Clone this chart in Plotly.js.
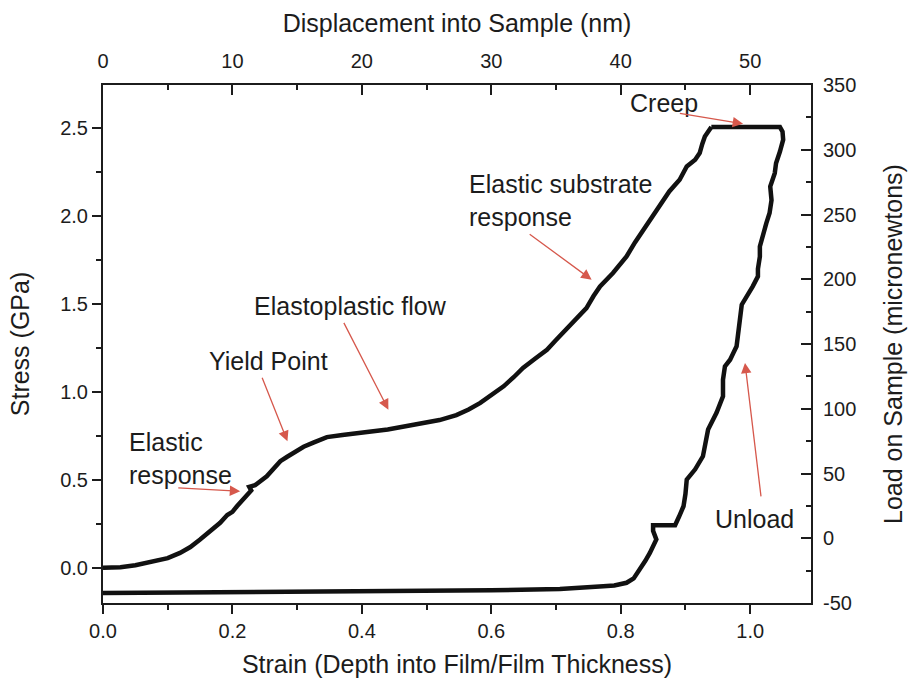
<!DOCTYPE html>
<html>
<head>
<meta charset="utf-8">
<script src="https://cdn.plot.ly/plotly-3.0.1.min.js"></script>
<style>html,body{margin:0;padding:0;background:#fff;}#chart{width:908px;height:684px;}</style>
</head>
<body>
<div id="chart"></div>
<script>
// Loading branch: strain (depth / film thickness) vs stress (GPa)
var strainLoad = [0.000,0.015,0.027,0.050,0.083,0.100,0.119,0.135,0.150,0.165,0.181,0.192,0.200,0.207,0.218,0.225,0.229,0.226,0.235,0.253,0.262,0.274,0.284,0.294,0.310,0.325,0.346,0.370,0.392,0.408,0.440,0.485,0.520,0.546,0.565,0.583,0.600,0.619,0.635,0.649,0.668,0.686,0.700,0.716,0.730,0.747,0.758,0.768,0.788,0.800,0.809,0.822,0.835,0.848,0.861,0.875,0.891,0.902,0.915,0.922,0.926,0.930,0.940];
var stressLoad = [0.000,0.000,0.003,0.015,0.038,0.055,0.085,0.118,0.161,0.205,0.256,0.300,0.318,0.350,0.392,0.426,0.440,0.460,0.470,0.520,0.555,0.606,0.630,0.653,0.688,0.712,0.743,0.755,0.762,0.772,0.786,0.815,0.840,0.868,0.900,0.938,0.985,1.032,1.085,1.136,1.190,1.240,1.295,1.354,1.410,1.477,1.545,1.600,1.676,1.730,1.770,1.850,1.922,2.000,2.074,2.140,2.206,2.282,2.320,2.358,2.410,2.452,2.506];
// Creep (hold at peak load) and unloading branch
var strainUnload = [0.940,1.046,1.050,1.051,1.046,1.040,1.038,1.031,1.033,1.030,1.025,1.020,1.015,1.015,1.012,1.012,1.004,0.987,0.984,0.979,0.974,0.969,0.961,0.958,0.958,0.948,0.935,0.930,0.927,0.915,0.902,0.900,0.897,0.890,0.884,0.850,0.850,0.855,0.850,0.845,0.838,0.830,0.820,0.809,0.790,0.773,0.706,0.600,0.400,0.200,0.000];
var stressUnload = [2.506,2.506,2.480,2.434,2.367,2.300,2.244,2.168,2.090,2.017,1.960,1.903,1.827,1.770,1.700,1.657,1.600,1.496,1.392,1.259,1.222,1.183,1.145,1.070,0.975,0.881,0.786,0.700,0.634,0.560,0.502,0.420,0.350,0.290,0.242,0.242,0.210,0.161,0.120,0.085,0.040,-0.010,-0.060,-0.085,-0.100,-0.105,-0.120,-0.128,-0.135,-0.140,-0.143];

// Axis ticks
var strainTicks = [0.0,0.2,0.4,0.6,0.8,1.0];
var strainTickText = ['0.0','0.2','0.4','0.6','0.8','1.0'];
var stressTicks = [0.0,0.5,1.0,1.5,2.0,2.5];
var stressTickText = ['0.0','0.5','1.0','1.5','2.0','2.5'];
var dispTicks = [0,10,20,30,40,50];
var dispTickText = ['0','10','20','30','40','50'];
var loadTicks = [-50,0,50,100,150,200,250,300,350];
var loadTickText = ['-50','0','50','100','150','200','250','300','350'];

// Annotation labels
var labelTexts = ['Creep','Elastic substrate<br>response','Elastoplastic flow','Yield Point','Elastic<br>response','Unload'];
var labelX = [0.867,0.562,0.3825,0.255,0.037,1.007];
var labelY = [2.642,2.088,1.486,1.174,0.620,0.278];
var labelAnchor = ['center','left','center','center','left','center'];
var arrowTailX = [0.889,0.657,0.371,0.245,0.114,1.017];
var arrowTailY = [2.585,1.903,1.401,1.089,0.455,0.398];
var arrowHeadX = [0.989,0.755,0.441,0.285,0.212,0.992];
var arrowHeadY = [2.524,1.638,0.899,0.719,0.435,1.165];

var FONT = 'Liberation Sans, Arial, sans-serif';
var INK = '#1c1c1c';
var RED = '#d6584c';

var traces = [
  {x: strainLoad, y: stressLoad, type:'scatter', mode:'lines',
   line:{color:'#111', width:4.5, shape:'linear'}, hoverinfo:'skip', showlegend:false},
  {x: strainUnload, y: stressUnload, type:'scatter', mode:'lines',
   line:{color:'#111', width:4.5, shape:'linear'}, hoverinfo:'skip', showlegend:false},
  {x: [], y: [], xaxis:'x2', yaxis:'y2', type:'scatter', mode:'lines', showlegend:false, hoverinfo:'skip'}
];

var annotations = [];
for (var i = 0; i < labelTexts.length; i++) {
  annotations.push({x: labelX[i], y: labelY[i], xref:'x', yref:'y', text: labelTexts[i],
    showarrow:false, xanchor: labelAnchor[i], yanchor:'middle', align:'left',
    font:{family:FONT, size:25, color:INK}});
  annotations.push({x: arrowHeadX[i], y: arrowHeadY[i], ax: arrowTailX[i], ay: arrowTailY[i],
    xref:'x', yref:'y', axref:'x', ayref:'y', text:'', showarrow:true,
    arrowhead:2, arrowsize:1.6, arrowwidth:1.3, arrowcolor:RED, standoff:0, startstandoff:0});
}

var axisCommon = {showgrid:false, zeroline:false, showline:true, linecolor:INK, linewidth:2,
  tickcolor:INK, tickwidth:2, tickfont:{family:FONT, size:20, color:INK}, automargin:false};

var layout = {
  width:908, height:684,
  margin:{l:103, r:97, t:85, b:81, pad:0},
  paper_bgcolor:'#ffffff', plot_bgcolor:'#ffffff',
  showlegend:false,
  xaxis: Object.assign({}, axisCommon, {
    range:[0,1.094], tickmode:'array', tickvals:strainTicks, ticktext:strainTickText,
    ticks:'outside', ticklen:9,
    minor:{tickmode:'linear', tick0:0.1, dtick:0.2, ticks:'outside', ticklen:5, tickwidth:2, tickcolor:INK},
    title:{text:'Strain (Depth into Film/Film Thickness)', font:{family:FONT, size:25, color:INK}, standoff:14}
  }),
  yaxis: Object.assign({}, axisCommon, {
    range:[-0.2,2.745], tickmode:'array', tickvals:stressTicks, ticktext:stressTickText,
    ticks:'outside', ticklen:9,
    minor:{tickmode:'linear', tick0:0.25, dtick:0.5, ticks:'outside', ticklen:5, tickwidth:2, tickcolor:INK},
    title:{text:'Stress (GPa)', font:{family:FONT, size:25, color:INK}, standoff:23}
  }),
  xaxis2: Object.assign({}, axisCommon, {
    overlaying:'x', side:'top', anchor:'y',
    range:[0,54.7], tickmode:'array', tickvals:dispTicks, ticktext:dispTickText,
    ticks:'inside', ticklen:10, ticklabelstandoff:7,
    minor:{tickmode:'linear', tick0:5, dtick:10, ticks:'inside', ticklen:5, tickwidth:2, tickcolor:INK},
    title:{text:'Displacement into Sample (nm)', font:{family:FONT, size:25, color:INK}, standoff:10}
  }),
  yaxis2: Object.assign({}, axisCommon, {
    overlaying:'y', side:'right', anchor:'x',
    range:[-50,350], tickmode:'array', tickvals:loadTicks, ticktext:loadTickText,
    ticks:'inside', ticklen:10, ticklabelstandoff:6,
    minor:{tickmode:'linear', tick0:25, dtick:50, ticks:'inside', ticklen:5, tickwidth:2, tickcolor:INK},
    title:{text:'Load on Sample (micronewtons)', font:{family:FONT, size:25, color:INK}, standoff:29}
  }),
  annotations: annotations
};

Plotly.newPlot('chart', traces, layout, {staticPlot:true, displayModeBar:false});
</script>
</body>
</html>
